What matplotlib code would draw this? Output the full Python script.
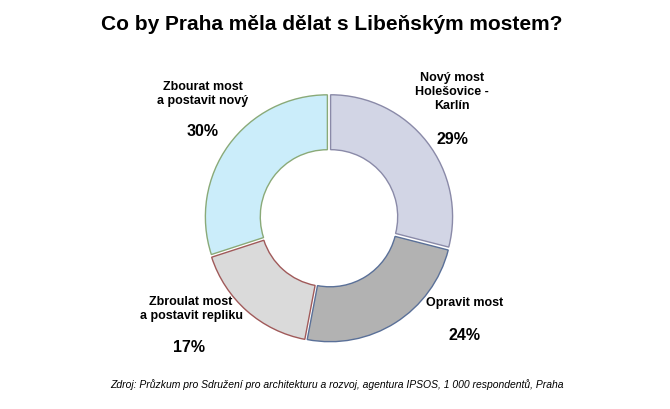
import matplotlib
matplotlib.use("Agg")
import matplotlib.pyplot as plt

plt.rcParams['font.family'] = ['Liberation Sans', 'DejaVu Sans']

labels = ["Nový most\nHolešovice -\nKarlín", "Opravit most",
          "Zbroulat most\na postavit repliku", "Zbourat most\na postavit nový"]
values = [29, 24, 17, 30]
pct_labels = ["29%", "24%", "17%", "30%"]
colors = ["#d2d5e5", "#b2b2b2", "#dadada", "#cbedfa"]
edges = ["#8a8aa8", "#5a7098", "#a05a5a", "#8aaa78"]

W, H = 670, 410
fig = plt.figure(figsize=(W / 100, H / 100), dpi=100)
ax = fig.add_axes([0, 0, 1, 1])

cx, cy, R = 329, H - 219, 122
wedges, _ = ax.pie(values, startangle=90, counterclock=False, colors=colors,
                   radius=R, center=(cx, cy), explode=[2.0] * 4,
                   wedgeprops=dict(width=R * 0.45, linewidth=1.0), frame=True)
for w, ec in zip(wedges, edges):
    w.set_edgecolor(ec)
ax.set_xlim(0, W)
ax.set_ylim(0, H)
ax.axis('off')

# category labels (pixel positions)
lab_pos = [(452, 92), (465, 303), (191, 309), (203, 94)]
pct_pos = [(452, 139), (465, 336), (189, 348), (203, 132)]
for (x, y), t in zip(lab_pos, labels):
    ax.text(x, H - y, t, ha='center', va='center', fontsize=9,
            fontweight='bold', linespacing=1.2)
for (x, y), t in zip(pct_pos, pct_labels):
    ax.text(x, H - y, t, ha='center', va='center', fontsize=11.5,
            fontweight='bold')

ax.text(332, H - 24, "Co by Praha měla dělat s Libeňským mostem?",
        ha='center', va='center', fontsize=15, fontweight='bold')
ax.text(337, H - 385,
        "Zdroj: Průzkum pro Sdružení pro architekturu a rozvoj, agentura IPSOS, 1 000 respondentů, Praha",
        ha='center', va='center', fontsize=7.5, fontstyle='italic')

fig.savefig("out.png", dpi=100)
